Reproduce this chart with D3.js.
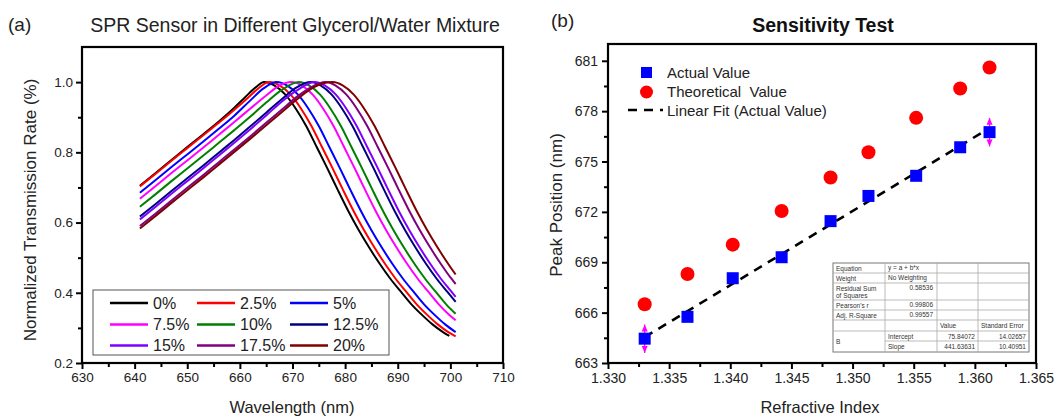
<!DOCTYPE html>
<html>
<head>
<meta charset="utf-8">
<script src="https://cdn.jsdelivr.net/npm/d3@7"></script>
<style>
    body, html {
        margin: 0;
        padding: 0;
        background: #fff;
        font-family: "Liberation Sans", Arial, sans-serif;
    }
    .tick text { fill: #222; }
    .tbl { font-size: 6.5px; fill: #333; }
</style>
</head>
<body>
<div id="container"></div>
<script>
// ---------- panel (a) data ----------
const concLabels = ["0%", "2.5%", "5%", "7.5%", "10%", "12.5%", "15%", "17.5%", "20%"];
const concColors = ["#000000", "#ff0000", "#0000ff", "#ff00ff", "#008000", "#000080", "#8000ff", "#800080", "#800000"];

const curve0 = [[641,.705],[644,.741],[647,.778],[650,.815],[653,.851],[656,.888],[659,.928],[661,.957],[663,.985],[664.6,1],[666.6,.99],[668.6,.965],[670.6,.925],[672.6,.875],[674.6,.815],[676.6,.755],[678.6,.693],[680.6,.633],[682.6,.578],[684.6,.528],[686.6,.482],[688.6,.44],[690.6,.403],[692.6,.367],[694.6,.337],[696.6,.31],[698.6,.288],[699.8,.277]];
const curve1 = [[641,.703],[644,.739],[647,.776],[650,.812],[653,.848],[656,.884],[659,.922],[661.5,.955],[663.5,.982],[665.6,1],[667.6,.99],[669.6,.965],[671.6,.925],[673.6,.875],[675.6,.815],[677.6,.755],[679.6,.693],[681.6,.633],[683.6,.578],[685.6,.528],[687.6,.482],[689.6,.44],[691.6,.403],[693.6,.367],[695.6,.337],[697.6,.31],[699.6,.288],[701,.276]];
const curve2 = [[641,.685],[644,.721],[647,.758],[650,.794],[653,.83],[656,.867],[659,.905],[662,.948],[664.5,.982],[667,1],[669,.99],[671,.965],[673,.925],[675,.875],[677,.815],[679,.755],[681,.693],[683,.633],[685,.578],[687,.528],[689,.482],[691,.44],[693,.403],[695,.367],[697,.337],[699,.31],[701,.288]];
const curve3 = [[641,.668],[644,.704],[647,.741],[650,.777],[653,.813],[656,.85],[659,.887],[662,.925],[665,.962],[667.5,.99],[669.8,1],[671.8,.99],[673.8,.965],[675.8,.925],[677.8,.875],[679.8,.815],[681.8,.755],[683.8,.693],[685.8,.633],[687.8,.578],[689.8,.528],[691.8,.482],[693.8,.44],[695.8,.403],[697.8,.367],[699.8,.337],[701,.322]];
const curve4 = [[641,.645],[644,.681],[647,.718],[650,.754],[653,.79],[656,.827],[659,.864],[662,.902],[665,.942],[668,.978],[671.2,1],[673.2,.99],[675.2,.965],[677.2,.925],[679.2,.875],[681.2,.815],[683.2,.755],[685.2,.693],[687.2,.633],[689.2,.578],[691.2,.528],[693.2,.482],[695.2,.44],[697.2,.403],[699.2,.367],[701,.34]];
const curve5 = [[641,.617],[644,.653],[647,.69],[650,.726],[653,.762],[656,.799],[659,.836],[662,.874],[665,.913],[668,.952],[670.8,.985],[673.4,1],[675.4,.99],[677.4,.965],[679.4,.925],[681.4,.875],[683.4,.815],[685.4,.755],[687.4,.693],[689.4,.633],[691.4,.578],[693.4,.528],[695.4,.482],[697.4,.44],[699.4,.403],[701,.374]];
const curve6 = [[641,.609],[644,.645],[647,.682],[650,.718],[653,.754],[656,.791],[659,.828],[662,.866],[665,.905],[668,.945],[671,.978],[674.2,1],[676.2,.99],[678.2,.965],[680.2,.925],[682.2,.875],[684.2,.815],[686.2,.755],[688.2,.693],[690.2,.633],[692.2,.578],[694.2,.528],[696.2,.482],[698.2,.44],[700.2,.403],[701,.388]];
const curve7 = [[641,.59],[644,.626],[647,.663],[650,.699],[653,.735],[656,.772],[659,.809],[662,.846],[665,.884],[668,.922],[671,.96],[673.5,.985],[676.2,1],[678.2,.99],[680.2,.965],[682.2,.925],[684.2,.875],[686.2,.815],[688.2,.755],[690.2,.693],[692.2,.633],[694.2,.578],[696.2,.528],[698.2,.482],[700.2,.44],[701,.425]];
const curve8 = [[641,.583],[644,.619],[647,.656],[650,.692],[653,.728],[656,.765],[659,.802],[662,.839],[665,.877],[668,.915],[671,.953],[674,.985],[677.6,1],[679.6,.99],[681.6,.965],[683.6,.925],[685.6,.875],[687.6,.815],[689.6,.755],[691.6,.693],[693.6,.633],[695.6,.578],[697.6,.528],[699.6,.482],[701,.452]];
const spectra = [curve0, curve1, curve2, curve3, curve4, curve5, curve6, curve7, curve8];

const wlTicks = [630, 640, 650, 660, 670, 680, 690, 700, 710];
const rateTicks = [0.2, 0.4, 0.6, 0.8, 1.0];

// ---------- panel (b) data ----------
const refractiveIndex = [1.3330, 1.3365, 1.3402, 1.3442, 1.3482, 1.3513, 1.3552, 1.3588, 1.3612];
const actualPeak = [664.45, 665.75, 668.05, 669.3, 671.45, 672.95, 674.15, 675.85, 676.75];
const theoreticalPeak = [666.5, 668.3, 670.05, 672.05, 674.05, 675.55, 677.6, 679.35, 680.6];
const actualError = [0.85, 0, 0, 0, 0, 0, 0, 0, 0.85];
const fitIntercept = 75.84072;
const fitSlope = 441.63631;

const riTicks = [1.330, 1.335, 1.340, 1.345, 1.350, 1.355, 1.360, 1.365];
const peakTicks = [663, 666, 669, 672, 675, 678, 681];

const fitInfoRows = [
    ["Equation", "y = a + b*x"],
    ["Weight", "No Weighting"],
    ["Residual Sum|of Squares", "0.58536"],
    ["Pearson's r", "0.99806"],
    ["Adj. R-Square", "0.99557"]
];
const fitParamHeader = ["Value", "Standard Error"];
const fitParamRows = [
    ["Intercept", "75.84072", "14.02657"],
    ["Slope", "441.63631", "10.40951"]
];

// ---------- svg ----------
const W = 1059, H = 416;
const svg = d3.select("#container").append("svg")
    .attr("width", W).attr("height", H)
    .style("background", "#fff");

function ticksBetween(a, b, step) {
    const out = [];
    for (let v = a; v <= b + 1e-9; v += step) out.push(+v.toFixed(6));
    return out;
}

// ================= panel (a) =================
const xA = d3.scaleLinear().domain([630, 710]).range([82, 503]);
const yA = d3.scaleLinear().domain([0.2, 1.1]).range([363, 47]);

const gA = svg.append("g");

// minor ticks
gA.append("g").attr("transform", "translate(0,363)")
    .call(d3.axisBottom(xA).tickValues(ticksBetween(635, 705, 10)).tickSize(4).tickFormat(""))
    .call(g => g.select(".domain").remove())
    .call(g => g.selectAll("line").attr("stroke", "#000").attr("stroke-width", 2));
gA.append("g").attr("transform", "translate(82,0)")
    .call(d3.axisLeft(yA).tickValues([0.3, 0.5, 0.7, 0.9]).tickSize(4).tickFormat(""))
    .call(g => g.select(".domain").remove())
    .call(g => g.selectAll("line").attr("stroke", "#000").attr("stroke-width", 2));

// major ticks
gA.append("g").attr("transform", "translate(0,363)")
    .call(d3.axisBottom(xA).tickValues(wlTicks).tickSize(6).tickPadding(3).tickFormat(d3.format("d")))
    .call(g => g.select(".domain").remove())
    .call(g => g.selectAll("line").attr("stroke", "#000").attr("stroke-width", 2))
    .call(g => g.selectAll("text").style("font-size", "13.5px").style("font-family", "Liberation Sans, Arial"));
gA.append("g").attr("transform", "translate(82,0)")
    .call(d3.axisLeft(yA).tickValues(rateTicks).tickSize(6).tickPadding(3).tickFormat(d3.format(".1f")))
    .call(g => g.select(".domain").remove())
    .call(g => g.selectAll("line").attr("stroke", "#000").attr("stroke-width", 2))
    .call(g => g.selectAll("text").style("font-size", "13.5px").style("font-family", "Liberation Sans, Arial"));

// curves
const lineA = d3.line().x(d => xA(d[0])).y(d => yA(d[1])).curve(d3.curveMonotoneX);
gA.append("g").selectAll("path")
    .data(spectra)
    .join("path")
    .attr("d", lineA)
    .attr("fill", "none")
    .attr("stroke", (d, i) => concColors[i])
    .attr("stroke-width", 2);

// frame
gA.append("rect")
    .attr("x", 82).attr("y", 47)
    .attr("width", 503 - 82).attr("height", 363 - 47)
    .attr("fill", "none").attr("stroke", "#000").attr("stroke-width", 2.2);

// legend (a)
const legA = gA.append("g");
legA.append("rect")
    .attr("x", 93).attr("y", 290).attr("width", 296).attr("height", 65)
    .attr("fill", "#fff").attr("stroke", "#555").attr("stroke-width", 1);
const colX = [110, 197, 290];
const rowY = [303, 324.5, 345.5];
concLabels.forEach((lab, i) => {
    const cx = colX[i % 3], cy = rowY[Math.floor(i / 3)];
    legA.append("line")
        .attr("x1", cx).attr("x2", cx + 38).attr("y1", cy).attr("y2", cy)
        .attr("stroke", concColors[i]).attr("stroke-width", 2.5);
    legA.append("text")
        .attr("x", cx + 43).attr("y", cy + 5.5)
        .style("font-size", "16px").attr("fill", "#222")
        .text(lab);
});

// titles (a)
svg.append("text").attr("x", 8).attr("y", 31).style("font-size", "19px").attr("fill", "#222").text("(a)");
svg.append("text").attr("x", 295).attr("y", 32).attr("text-anchor", "middle")
    .style("font-size", "19.5px").attr("fill", "#222")
    .text("SPR Sensor in Different Glycerol/Water Mixture");
svg.append("text").attr("x", 292).attr("y", 413).attr("text-anchor", "middle")
    .style("font-size", "16.5px").attr("fill", "#222").text("Wavelength (nm)");
svg.append("text").attr("transform", "translate(36,210) rotate(-90)").attr("text-anchor", "middle")
    .style("font-size", "17px").attr("fill", "#222").text("Normalized Transmission Rate (%)");

// ================= panel (b) =================
const xB = d3.scaleLinear().domain([1.330, 1.365]).range([608, 1036]);
const yB = d3.scaleLinear().domain([663, 682]).range([363, 44]);
const gB = svg.append("g");

gB.append("g").attr("transform", "translate(0,363)")
    .call(d3.axisBottom(xB).tickValues(ticksBetween(1.3325, 1.3625, 0.005)).tickSize(4).tickFormat(""))
    .call(g => g.select(".domain").remove())
    .call(g => g.selectAll("line").attr("stroke", "#000").attr("stroke-width", 2));
gB.append("g").attr("transform", "translate(608,0)")
    .call(d3.axisLeft(yB).tickValues(ticksBetween(664.5, 679.5, 3)).tickSize(4).tickFormat(""))
    .call(g => g.select(".domain").remove())
    .call(g => g.selectAll("line").attr("stroke", "#000").attr("stroke-width", 2));

gB.append("g").attr("transform", "translate(0,363)")
    .call(d3.axisBottom(xB).tickValues(riTicks).tickSize(6).tickPadding(4).tickFormat(d3.format(".3f")))
    .call(g => g.select(".domain").remove())
    .call(g => g.selectAll("line").attr("stroke", "#000").attr("stroke-width", 2))
    .call(g => g.selectAll("text").style("font-size", "14px").style("font-family", "Liberation Sans, Arial"));
gB.append("g").attr("transform", "translate(608,0)")
    .call(d3.axisLeft(yB).tickValues(peakTicks).tickSize(6).tickPadding(4).tickFormat(d3.format("d")))
    .call(g => g.select(".domain").remove())
    .call(g => g.selectAll("line").attr("stroke", "#000").attr("stroke-width", 2))
    .call(g => g.selectAll("text").style("font-size", "14px").style("font-family", "Liberation Sans, Arial"));

// fit line
const fitLine = d3.line().x(d => xB(d)).y(d => yB(fitIntercept + fitSlope * d));
gB.append("path")
    .attr("d", fitLine([refractiveIndex[0], refractiveIndex[refractiveIndex.length - 1]]))
    .attr("fill", "none").attr("stroke", "#000").attr("stroke-width", 2.6)
    .attr("stroke-dasharray", "9,7");

// theoretical
gB.append("g").selectAll("circle")
    .data(theoreticalPeak)
    .join("circle")
    .attr("cx", (d, i) => xB(refractiveIndex[i]))
    .attr("cy", d => yB(d))
    .attr("r", 7)
    .attr("fill", "#ff0000");

// error bars
const errIdx = actualError.map((e, i) => i).filter(i => actualError[i] > 0);
const errG = gB.append("g").attr("fill", "#ff00ff").attr("stroke", "#ff00ff");
errIdx.forEach(i => {
    const cx = xB(refractiveIndex[i]);
    const top = yB(actualPeak[i] + actualError[i]);
    const bot = yB(actualPeak[i] - actualError[i]);
    errG.append("line").attr("x1", cx).attr("x2", cx).attr("y1", top).attr("y2", bot).attr("stroke-width", 1.2);
    errG.append("path").attr("stroke", "none")
        .attr("d", `M${cx - 3},${top + 7}L${cx},${top}L${cx + 3},${top + 7}Z`);
    errG.append("path").attr("stroke", "none")
        .attr("d", `M${cx - 3},${bot - 7}L${cx},${bot}L${cx + 3},${bot - 7}Z`);
});

// actual
const sq = 12;
gB.append("g").selectAll("rect")
    .data(actualPeak)
    .join("rect")
    .attr("x", (d, i) => xB(refractiveIndex[i]) - sq / 2)
    .attr("y", d => yB(d) - sq / 2)
    .attr("width", sq).attr("height", sq)
    .attr("fill", "#0000ff");

// frame
gB.append("rect")
    .attr("x", 608).attr("y", 44)
    .attr("width", 1036 - 608).attr("height", 363 - 44)
    .attr("fill", "none").attr("stroke", "#000").attr("stroke-width", 2.2);

// legend (b)
const legB = gB.append("g");
legB.append("rect").attr("x", 641).attr("y", 67).attr("width", 11).attr("height", 11).attr("fill", "#0000ff");
legB.append("circle").attr("cx", 646.5).attr("cy", 92).attr("r", 6.5).attr("fill", "#ff0000");
legB.append("line").attr("x1", 628).attr("x2", 663).attr("y1", 110).attr("y2", 110)
    .attr("stroke", "#000").attr("stroke-width", 2.6).attr("stroke-dasharray", "9,7");
const legBText = ["Actual Value", "Theoretical  Value", "Linear Fit (Actual Value)"];
legBText.forEach((t, i) => {
    legB.append("text").attr("x", 667).attr("y", 78 + i * 19)
        .style("font-size", "15px").style("white-space", "pre").attr("fill", "#222").text(t);
});

// fit table
const tblCols = [833, 885, 937, 978, 1029];
const tblRows = [263, 273, 283, 300, 310, 320, 331, 341, 352];
const tbl = gB.append("g");
tbl.append("rect").attr("x", tblCols[0]).attr("y", tblRows[0])
    .attr("width", tblCols[4] - tblCols[0]).attr("height", tblRows[8] - tblRows[0])
    .attr("fill", "#fff").attr("stroke", "#777").attr("stroke-width", 1);
// horizontal lines
tblRows.slice(1, 8).forEach((ry, k) => {
    const x1 = (k === 6) ? tblCols[1] : tblCols[0];
    tbl.append("line").attr("x1", x1).attr("x2", tblCols[4]).attr("y1", ry).attr("y2", ry)
        .attr("stroke", "#aaa").attr("stroke-width", 0.8);
});
tblCols.slice(1, 4).forEach(cx => {
    tbl.append("line").attr("x1", cx).attr("x2", cx).attr("y1", tblRows[0]).attr("y2", tblRows[8])
        .attr("stroke", "#aaa").attr("stroke-width", 0.8);
});
fitInfoRows.forEach((r, i) => {
    const parts = r[0].split("|");
    const y0 = tblRows[i], y1 = tblRows[i + 1];
    parts.forEach((p, j) => {
        tbl.append("text").attr("class", "tbl").attr("x", tblCols[0] + 3)
            .attr("y", parts.length > 1 ? y0 + 7.5 + j * 7 : y0 + 7.5).text(p);
    });
    const txt = tbl.append("text").attr("class", "tbl").attr("y", y0 + 7).text(r[1]);
    if (i < 2) txt.attr("x", tblCols[1] + 3);
    else txt.attr("x", tblCols[2] - 4).attr("text-anchor", "end");
});
fitParamHeader.forEach((h, j) => {
    tbl.append("text").attr("class", "tbl").attr("x", tblCols[2 + j] + 3).attr("y", tblRows[5] + 8).text(h);
});
tbl.append("text").attr("class", "tbl").attr("x", tblCols[0] + 3).attr("y", (tblRows[6] + tblRows[8]) / 2 + 2.5).text("B");
fitParamRows.forEach((r, i) => {
    const y0 = tblRows[6 + i];
    tbl.append("text").attr("class", "tbl").attr("x", tblCols[1] + 3).attr("y", y0 + 7.5).text(r[0]);
    tbl.append("text").attr("class", "tbl").attr("x", tblCols[3] - 3).attr("y", y0 + 7.5).attr("text-anchor", "end").text(r[1]);
    tbl.append("text").attr("class", "tbl").attr("x", tblCols[4] - 3).attr("y", y0 + 7.5).attr("text-anchor", "end").text(r[2]);
});

// titles (b)
svg.append("text").attr("x", 551).attr("y", 27).style("font-size", "19px").attr("fill", "#222").text("(b)");
svg.append("text").attr("x", 823).attr("y", 32).attr("text-anchor", "middle")
    .style("font-size", "19.5px").style("font-weight", "bold").attr("fill", "#111").text("Sensitivity Test");
svg.append("text").attr("x", 820).attr("y", 413).attr("text-anchor", "middle")
    .style("font-size", "16.5px").attr("fill", "#222").text("Refractive Index");
svg.append("text").attr("transform", "translate(562,205) rotate(-90)").attr("text-anchor", "middle")
    .style("font-size", "17px").attr("fill", "#222").text("Peak Position (nm)");
</script>
</body>
</html>
